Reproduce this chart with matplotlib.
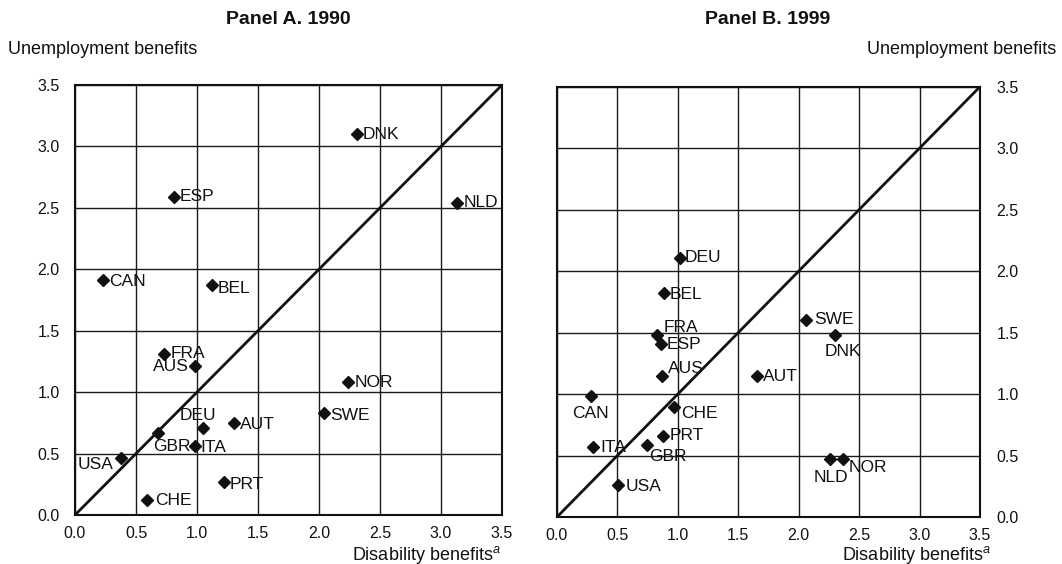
import matplotlib.pyplot as plt

plt.rcParams["font.family"] = ["Liberation Sans", "DejaVu Sans"]
plt.rcParams["mathtext.fontset"] = "custom"
plt.rcParams["mathtext.rm"] = "Liberation Sans"
plt.rcParams["mathtext.it"] = "Liberation Sans:italic"

# Panel A: 1990
countries_1990 = ["DNK", "ESP", "NLD", "CAN", "BEL", "FRA", "AUS", "NOR",
                  "SWE", "AUT", "DEU", "GBR", "ITA", "USA", "PRT", "CHE"]
disab_1990 = [2.31, 0.81, 3.13, 0.23, 1.12, 0.73, 0.98, 2.24,
              2.04, 1.30, 1.05, 0.68, 0.98, 0.38, 1.22, 0.59]
unemp_1990 = [3.10, 2.59, 2.54, 1.91, 1.87, 1.31, 1.21, 1.08,
              0.83, 0.75, 0.71, 0.67, 0.56, 0.46, 0.27, 0.12]

# Panel B: 1999
countries_1999 = ["DEU", "BEL", "SWE", "FRA", "ESP", "DNK", "AUS", "AUT",
                  "CAN", "CHE", "PRT", "GBR", "ITA", "NLD", "NOR", "USA"]
disab_1999 = [1.02, 0.89, 2.06, 0.83, 0.86, 2.30, 0.87, 1.66,
              0.28, 0.97, 0.88, 0.75, 0.30, 2.26, 2.37, 0.51]
unemp_1999 = [2.11, 1.82, 1.60, 1.48, 1.41, 1.48, 1.15, 1.15,
              0.99, 0.90, 0.66, 0.59, 0.57, 0.47, 0.47, 0.26]

ticks = [0.0, 0.5, 1.0, 1.5, 2.0, 2.5, 3.0, 3.5]

# label placement: (dx, dy) in pixels from the marker, horizontal alignment
labels_a = {
    "DNK": (6, 0, "left"), "ESP": (6, 0, "left"), "NLD": (7, 0, "left"),
    "CAN": (6, -1, "left"), "BEL": (6, -3, "left"), "FRA": (7, 1, "left"),
    "AUS": (-6, 0, "right"), "NOR": (6, 0, "left"), "SWE": (6, -2, "left"),
    "AUT": (6, -2, "left"), "DEU": (-5, 12, "center"), "GBR": (14, -14, "center"),
    "ITA": (6, -1, "left"), "USA": (-8, -6, "right"), "PRT": (6, -3, "left"),
    "CHE": (8, 0, "left"),
}
labels_b = {
    "DEU": (5, 0, "left"), "BEL": (5, -1, "left"), "SWE": (8, 1, "left"),
    "FRA": (7, 8, "left"), "ESP": (6, -1, "left"), "DNK": (8, -16, "center"),
    "AUS": (6, 7, "left"), "AUT": (6, -1, "left"), "CAN": (0, -18, "center"),
    "CHE": (7, -7, "left"), "PRT": (6, 1, "left"), "GBR": (20, -12, "center"),
    "ITA": (7, 0, "left"), "NLD": (1, -18, "center"), "NOR": (5, -8, "left"),
    "USA": (7, -1, "left"),
}

fig = plt.figure(figsize=(10.62, 5.64), dpi=100)
ax_a = fig.add_axes([75 / 1062, 49 / 564, 427 / 1062, 430 / 564])
ax_b = fig.add_axes([556.7 / 1062, 46.7 / 564, 423.3 / 1062, 430.6 / 564])


def draw_panel(ax, names, xs, ys, offsets):
    ax.set_xlim(0, 3.5)
    ax.set_ylim(0, 3.5)
    ax.set_xticks(ticks)
    ax.set_yticks(ticks)
    ax.set_xticklabels([f"{t:.1f}" for t in ticks])
    ax.set_yticklabels([f"{t:.1f}" for t in ticks])
    ax.grid(True, color="#1a1a1a", linewidth=1.0)
    ax.set_axisbelow(True)
    for s in ax.spines.values():
        s.set_linewidth(1.5)
        s.set_color("#111111")
    ax.plot([0, 3.5], [0, 3.5], color="#111111", linewidth=2.0, zorder=3)
    ax.plot(xs, ys, linestyle="none", marker="D", markersize=6.5,
            color="#111111", zorder=4)
    for name, x, y in zip(names, xs, ys):
        dx, dy, ha = offsets[name]
        ax.annotate(name, (x, y), xytext=(dx, dy), textcoords="offset pixels",
                    ha=ha, va="center", fontsize=12.5, color="#111111", zorder=5)


draw_panel(ax_a, countries_1990, disab_1990, unemp_1990, labels_a)
draw_panel(ax_b, countries_1999, disab_1999, unemp_1999, labels_b)

ax_a.tick_params(axis="both", length=0, labelsize=11.5, colors="#111111")
ax_a.tick_params(axis="y", pad=11)
ax_a.tick_params(axis="x", pad=8)
ax_b.tick_params(axis="both", length=0, labelsize=11.5, colors="#111111")
ax_b.tick_params(axis="y", left=False, labelleft=False, right=False,
                 labelright=True, pad=12)
ax_b.tick_params(axis="x", pad=8)

# panel titles, centred over each plot area
fig.text(288 / 1062, 1 - 20 / 564, "Panel A. 1990", fontsize=14,
         fontweight="bold", ha="center", va="center", color="#111111")
fig.text(768 / 1062, 1 - 20 / 564, "Panel B. 1999", fontsize=14,
         fontweight="bold", ha="center", va="center", color="#111111")

fig.text(8 / 1062, 1 - 50 / 564, "Unemployment benefits", fontsize=13,
         ha="left", va="center", color="#111111")
fig.text(1056 / 1062, 1 - 50 / 564, "Unemployment benefits", fontsize=13,
         ha="right", va="center", color="#111111")
fig.text(501 / 1062, 1 - 555 / 564, "Disability benefits$^{\\mathit{a}}$",
         fontsize=13, ha="right", va="center", color="#111111")
fig.text(991 / 1062, 1 - 555 / 564, "Disability benefits$^{\\mathit{a}}$",
         fontsize=13, ha="right", va="center", color="#111111")

fig.savefig("out.png", dpi=100, facecolor="white")
